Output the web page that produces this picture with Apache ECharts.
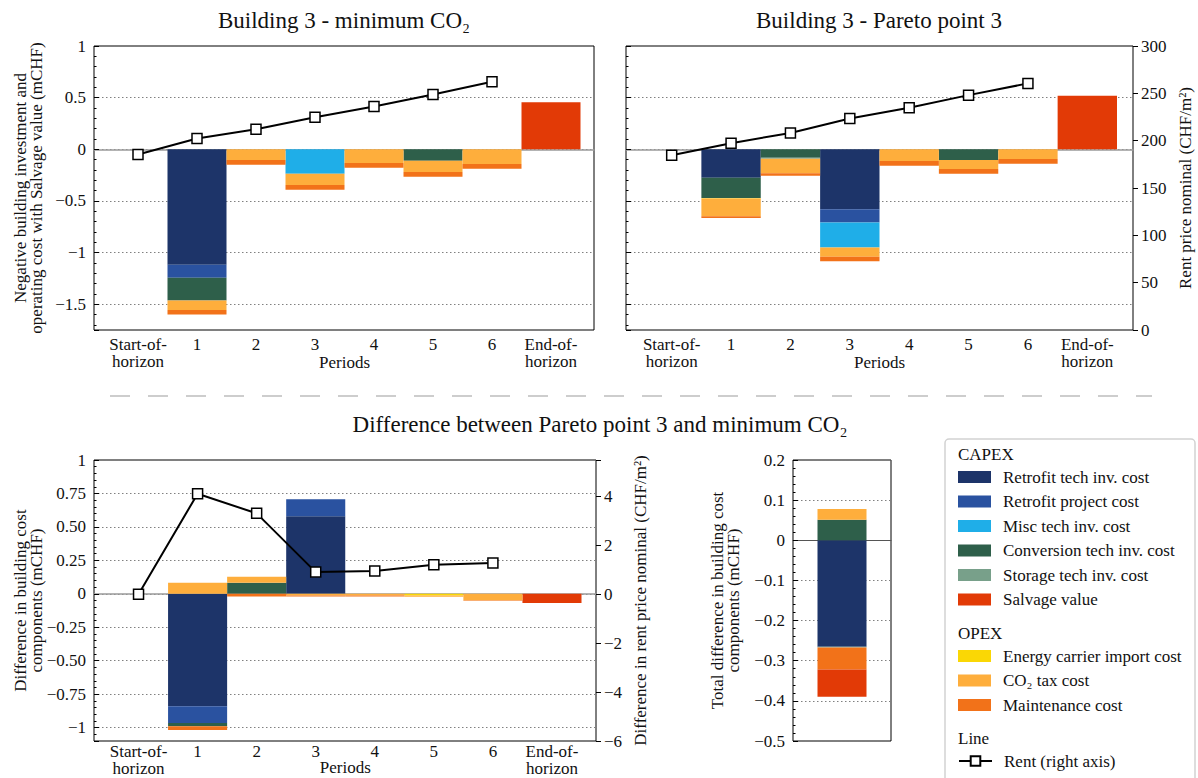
<!DOCTYPE html>
<html><head><meta charset="utf-8">
<script src="https://cdn.jsdelivr.net/npm/echarts@6/dist/echarts.min.js"></script>
<style>html,body{margin:0;padding:0;background:#fff}#c{width:1198px;height:778px}</style>
</head><body><div id="c"></div>
<script>
// ---------- categories & names ----------
const categories = ['Start-of-\nhorizon', '1', '2', '3', '4', '5', '6', 'End-of-\nhorizon'];
const capexNames = ['Retrofit tech inv. cost', 'Retrofit project cost', 'Misc tech inv. cost', 'Conversion tech inv. cost', 'Storage tech inv. cost', 'Salvage value'];
const opexNames = ['Energy carrier import cost', 'CO₂ tax cost', 'Maintenance cost'];
const lineName = 'Rent (right axis)';

// ---------- Building 3 - minimum CO2 (mCHF) ----------
const minRetrofitTech    = [0, -1.117, 0, 0, 0, 0, 0, 0];
const minRetrofitProject = [0, -0.127, 0, 0, 0, 0, 0, 0];
const minMisc            = [0, 0, 0, -0.237, 0, 0, 0, 0];
const minConversion      = [0, -0.221, 0, 0, 0, -0.110, 0, 0];
const minStorage         = [0, 0, 0, 0, 0, 0, 0, 0];
const minSalvage         = [0, 0, 0, 0, 0, 0, 0, 0.455];
const minEnergy          = [0, 0, 0, 0, 0, 0, 0, 0];
const minCo2Tax          = [0, -0.091, -0.104, -0.110, -0.133, -0.110, -0.143, 0];
const minMaintenance     = [0, -0.045, -0.045, -0.045, -0.045, -0.045, -0.045, 0];
const minRent            = [185.3, 202.2, 212.1, 224.8, 236.1, 248.8, 262.2];

// ---------- Building 3 - Pareto point 3 (mCHF) ----------
const parRetrofitTech    = [0, -0.276, 0, -0.581, 0, 0, 0, 0];
const parRetrofitProject = [0, 0, 0, -0.127, 0, 0, 0, 0];
const parMisc            = [0, 0, 0, -0.244, 0, 0, 0, 0];
const parConversion      = [0, -0.195, -0.081, 0, 0, -0.104, 0, 0];
const parStorage         = [0, 0, -0.010, 0, 0, 0, 0, 0];
const parSalvage         = [0, 0, 0, 0, 0, 0, 0, 0.519];
const parEnergy          = [0, -0.006, 0, 0, 0, 0, 0, 0];
const parCo2Tax          = [0, -0.172, -0.140, -0.088, -0.114, -0.088, -0.094, 0];
const parMaintenance     = [0, -0.016, -0.026, -0.045, -0.045, -0.045, -0.045, 0];
const parRent            = [184.6, 197.3, 208.2, 223.4, 234.7, 248.1, 260.5];

// ---------- Difference (mCHF) ----------
const diffRetrofitTech    = [0, -0.840, 0, 0.579, 0, 0, 0, 0];
const diffRetrofitProject = [0, -0.125, 0, 0.128, 0, 0, 0, 0];
const diffMisc            = [0, 0, 0, 0, 0, 0, 0, 0];
const diffConversion      = [0, -0.025, 0.083, 0, 0, 0, 0, 0];
const diffStorage         = [0, 0, 0, 0, 0, 0, 0, 0];
const diffSalvage         = [0, 0, 0, 0, 0, 0, 0, -0.068];
const diffEnergy          = [0, 0, 0, 0, 0, -0.012, 0, 0];
const diffCo2Tax          = [0, 0.083, 0.045, -0.012, -0.012, -0.010, -0.048, 0];
const diffMaintenance     = [0, -0.028, -0.020, -0.008, -0.008, 0, -0.004, 0];
const diffRent            = [0, 4.10, 3.30, 0.90, 0.95, 1.20, 1.27];

// ---------- Total difference (mCHF) ----------
const totRetrofitTech    = [-0.265];
const totRetrofitProject = [0];
const totMisc            = [0];
const totConversion      = [0.051];
const totStorage         = [-0.002];
const totEnergy          = [0];
const totCo2Tax          = [0.027];
const totMaintenance     = [-0.055];
const totSalvage         = [-0.0675];

// ---------- tick labels ----------
const topLeftTicks   = [-1.5, -1, -0.5, 0, 0.5, 1];
const rentTicks      = [0, 50, 100, 150, 200, 250, 300];
const diffLeftTicks  = [-1, -0.75, -0.5, -0.25, 0, 0.25, 0.5, 0.75, 1];
const diffRightTicks = [-6, -4, -2, 0, 2, 4];
const totalTicks     = [-0.5, -0.4, -0.3, -0.2, -0.1, 0, 0.1, 0.2];

// ---------- styles ----------
const colors = {
  'Retrofit tech inv. cost': '#1d3469',
  'Retrofit project cost': '#2a52a0',
  'Misc tech inv. cost': '#1faee8',
  'Conversion tech inv. cost': '#2e5f4a',
  'Storage tech inv. cost': '#78a08a',
  'Salvage value': '#e23a06',
  'Energy carrier import cost': '#fad705',
  'CO₂ tax cost': '#feae3c',
  'Maintenance cost': '#f27219'
};
const FONT = "'Liberation Serif', 'DejaVu Serif', serif";
const FS = 17;      // tick labels
const FN = 17;      // axis names
const FL = 17;      // legend
const FT = 23;      // titles
const minus = s => s.replace('-', '−');
const fmtPlain = v => minus(String(Math.round(v * 1000) / 1000));
const fmtDiff = v => { const a = Math.abs(v); const s = (a === 0 || a === 1) ? String(a) : a.toFixed(2); return (v < 0 ? '−' : '') + s; };
const fmtTotal = v => { const a = Math.abs(v); const s = a < 1e-9 ? '0' : a.toFixed(1); return (v < -1e-9 ? '−' : '') + s; };
const onTick = (ticks, f) => v => ticks.some(t => Math.abs(t - v) < 1e-6) ? f(v) : '';

const dotted = { type: [1.5, 2.5], color: '#808080', width: 1 };

function frameGrid(left, top, width, height) {
  return { left, top, width, height, show: true, borderColor: '#000', borderWidth: 1, backgroundColor: 'transparent', containLabel: false, outerBoundsMode: 'none' };
}
function barGrid(left, top, width, height) {
  return { left, top, width, height, containLabel: false, outerBoundsMode: 'none' };
}
function zeroAxis(gridIndex) {
  return { type: 'value', gridIndex, min: 0, max: 1, axisLine: { show: true, onZero: true, lineStyle: { color: '#9a9a9a', width: 1.5 } }, axisTick: { show: false }, axisLabel: { show: false }, splitLine: { show: false } };
}
function catAxis(gridIndex, margin, lineHeight, nameGap) {
  return {
    type: 'category', gridIndex, data: categories, boundaryGap: true,
    axisLine: { show: false }, axisTick: { show: false },
    axisLabel: { margin, fontFamily: FONT, fontSize: FS, lineHeight, color: '#111', interval: 0 },
    name: 'Periods', nameLocation: 'middle', nameGap, nameMoveOverlap: false,
    nameTextStyle: { fontFamily: FONT, fontSize: FN, color: '#111' }
  };
}
function leftAxis(gridIndex, min, max, step, ticks, fmt, showLabels, name, nameGap) {
  return {
    type: 'value', gridIndex, position: 'left', min, max, minInterval: step, maxInterval: step,
    axisLine: { show: false },
    axisTick: { show: true, inside: true, length: 5, lineStyle: { color: '#000' } },
    minorTick: { show: true, splitNumber: 5, length: 2.5, lineStyle: { color: '#000' } },
    splitLine: { show: true, lineStyle: dotted },
    axisLabel: { show: showLabels, margin: 8, fontFamily: FONT, fontSize: FS, color: '#111', formatter: onTick(ticks, fmt) },
    name: name || '', nameLocation: 'middle', nameGap: nameGap || 50, nameRotate: 90, nameMoveOverlap: false,
    nameTextStyle: { fontFamily: FONT, fontSize: FN, color: '#111', lineHeight: 16, align: 'center' }
  };
}
function rightAxis(gridIndex, min, max, step, ticks, fmt, name, nameGap) {
  return {
    type: 'value', gridIndex, position: 'right', min, max, minInterval: step, maxInterval: step,
    axisLine: { show: false },
    axisTick: { show: true, inside: false, length: 5, lineStyle: { color: '#000' } },
    splitLine: { show: false },
    axisLabel: { margin: 8, fontFamily: FONT, fontSize: FS, color: '#111', formatter: onTick(ticks, fmt) },
    name, nameLocation: 'middle', nameGap, nameRotate: 90, nameMoveOverlap: false,
    nameTextStyle: { fontFamily: FONT, fontSize: FN, color: '#111' }
  };
}
function hiddenAxis(gridIndex, position, min, max) {
  return { type: 'value', gridIndex, position, min, max, show: false, splitLine: { show: false } };
}
function stackSeries(names, arrays, xAxisIndex, yAxisIndex, stack, extra) {
  return names.map((n, i) => Object.assign({
    type: 'bar', name: n, data: arrays[i], xAxisIndex, yAxisIndex, stack,
    barCategoryGap: '0%', itemStyle: { color: colors[n] }, z: 3
  }, extra || {}));
}
function rentSeries(data, xAxisIndex, yAxisIndex) {
  return {
    type: 'line', name: lineName, data, xAxisIndex, yAxisIndex,
    symbol: 'rect', symbolSize: 10, showSymbol: true,
    itemStyle: { color: '#fff', borderColor: '#000', borderWidth: 1.5 },
    lineStyle: { color: '#000', width: 2 }, z: 6
  };
}

const allNames = capexNames.concat(opexNames);
const totalOrder = ['Retrofit tech inv. cost', 'Retrofit project cost', 'Misc tech inv. cost', 'Conversion tech inv. cost', 'Storage tech inv. cost', 'Energy carrier import cost', 'CO₂ tax cost', 'Maintenance cost', 'Salvage value'];

const minArrays  = [minRetrofitTech, minRetrofitProject, minMisc, minConversion, minStorage, minSalvage, minEnergy, minCo2Tax, minMaintenance];
const parArrays  = [parRetrofitTech, parRetrofitProject, parMisc, parConversion, parStorage, parSalvage, parEnergy, parCo2Tax, parMaintenance];
const diffArrays = [diffRetrofitTech, diffRetrofitProject, diffMisc, diffConversion, diffStorage, diffSalvage, diffEnergy, diffCo2Tax, diffMaintenance];
const totArrays  = [totRetrofitTech, totRetrofitProject, totMisc, totConversion, totStorage, totEnergy, totCo2Tax, totMaintenance, totSalvage];

const leftName1 = 'Negative building investment and\noperating cost with Salvage value (mCHF)';
const leftName2 = 'Difference in building cost\ncomponents (mCHF)';
const totName = 'Total difference in building cost\ncomponents (mCHF)';

const legendText = { fontFamily: FONT, fontSize: FL, lineHeight: 20, color: '#111', padding: [0, 0, 0, 7] };

const option = {
  animation: false,
  backgroundColor: '#fff',
  textStyle: { fontFamily: FONT },
  grid: [
    frameGrid(94, 46, 500, 284),          // 0 TL frame
    barGrid(108.5, 46, 472, 284),         // 1 TL bars
    frameGrid(626, 46, 507, 284),         // 2 TR frame
    barGrid(642, 46, 475, 284),           // 3 TR bars
    frameGrid(94, 460, 502, 281),         // 4 BL frame
    barGrid(109, 460, 472.5, 281),        // 5 BL bars
    frameGrid(793, 460, 98, 281)          // 6 total
  ],
  xAxis: [
    zeroAxis(0), catAxis(1, 6, 17, 24), zeroAxis(2), catAxis(3, 6, 17, 24), zeroAxis(4), catAxis(5, 2, 17, 18),
    { type: 'category', gridIndex: 6, data: [''], axisLine: { show: true, onZero: true, lineStyle: { color: '#555', width: 1.2 } }, axisTick: { show: false }, axisLabel: { show: false } }
  ],
  yAxis: [
    leftAxis(0, -1.75, 1, 0.5, topLeftTicks, fmtPlain, true, leftName1, 50),     // 0
    hiddenAxis(1, 'left', -1.75, 1),                                               // 1
    hiddenAxis(1, 'right', 0, 300),                                                // 2
    leftAxis(2, -1.75, 1, 0.5, topLeftTicks, fmtPlain, false),                     // 3
    rightAxis(2, 0, 300, 50, rentTicks, fmtPlain, 'Rent price nominal (CHF/m²)', 44), // 4
    hiddenAxis(3, 'left', -1.75, 1),                                               // 5
    hiddenAxis(3, 'right', 0, 300),                                                // 6
    leftAxis(4, -1.1, 1, 0.25, diffLeftTicks, fmtDiff, true, leftName2, 50),       // 7
    rightAxis(4, -6, 5.48, 2, diffRightTicks, fmtPlain, 'Difference in rent price nominal (CHF/m²)', 36), // 8
    hiddenAxis(5, 'left', -1.1, 1),                                                // 9
    hiddenAxis(5, 'right', -6, 5.48),                                              // 10
    leftAxis(6, -0.5, 0.2, 0.1, totalTicks, fmtTotal, true, totName, 52)           // 11
  ],
  legend: [
    { data: capexNames, left: 958, top: 467, orient: 'vertical', itemWidth: 33, itemHeight: 12, itemGap: 4.5, icon: 'rect', padding: 0, selectedMode: false, textStyle: legendText },
    { data: opexNames, left: 958, top: 646, orient: 'vertical', itemWidth: 33, itemHeight: 12, itemGap: 4.5, icon: 'rect', padding: 0, selectedMode: false, textStyle: legendText },
    { data: [lineName], left: 958, top: 751, orient: 'vertical', itemWidth: 33, itemHeight: 12, padding: 0, selectedMode: false, textStyle: legendText }
  ],
  graphic: [
    { type: 'rect', z: -1, shape: { x: 945, y: 439, width: 250, height: 345, r: 4 }, style: { fill: '#fff', stroke: '#d2d2d2', lineWidth: 1.5 } },
    { type: 'text', style: { text: 'CAPEX', x: 958, y: 454, align: 'left', verticalAlign: 'middle', fontFamily: FONT, fontSize: FL, fill: '#111' } },
    { type: 'text', style: { text: 'OPEX', x: 958, y: 633, align: 'left', verticalAlign: 'middle', fontFamily: FONT, fontSize: FL, fill: '#111' } },
    { type: 'text', style: { text: 'Line', x: 958, y: 738, align: 'left', verticalAlign: 'middle', fontFamily: FONT, fontSize: FL, fill: '#111' } },
    { type: 'text', style: { text: 'Building 3 - minimum CO₂', x: 344, y: 20, align: 'center', verticalAlign: 'middle', fontFamily: FONT, fontSize: FT, fill: '#111' } },
    { type: 'text', style: { text: 'Building 3 - Pareto point 3', x: 879, y: 20, align: 'center', verticalAlign: 'middle', fontFamily: FONT, fontSize: FT, fill: '#111' } },
    { type: 'text', style: { text: 'Difference between Pareto point 3 and minimum CO₂', x: 600, y: 424, align: 'center', verticalAlign: 'middle', fontFamily: FONT, fontSize: FT, fill: '#111' } },
    { type: 'line', shape: { x1: 110, y1: 396, x2: 1152, y2: 396 }, style: { stroke: '#bdbdbd', lineWidth: 1.5, lineDash: [20, 18] } }
  ],
  series: [].concat(
    stackSeries(allNames, minArrays, 1, 1, 'tl'),
    [rentSeries(minRent, 1, 2)],
    stackSeries(allNames, parArrays, 3, 5, 'tr'),
    [rentSeries(parRent, 3, 6)],
    stackSeries(allNames, diffArrays, 5, 9, 'bl'),
    [rentSeries(diffRent, 5, 10)],
    stackSeries(totalOrder, totArrays, 6, 11, 'tot', { barWidth: 49, barCategoryGap: null })
  )
};

const chart = echarts.init(document.getElementById('c'), null, { renderer: 'svg' });
chart.setOption(option);
</script>
</body></html>
